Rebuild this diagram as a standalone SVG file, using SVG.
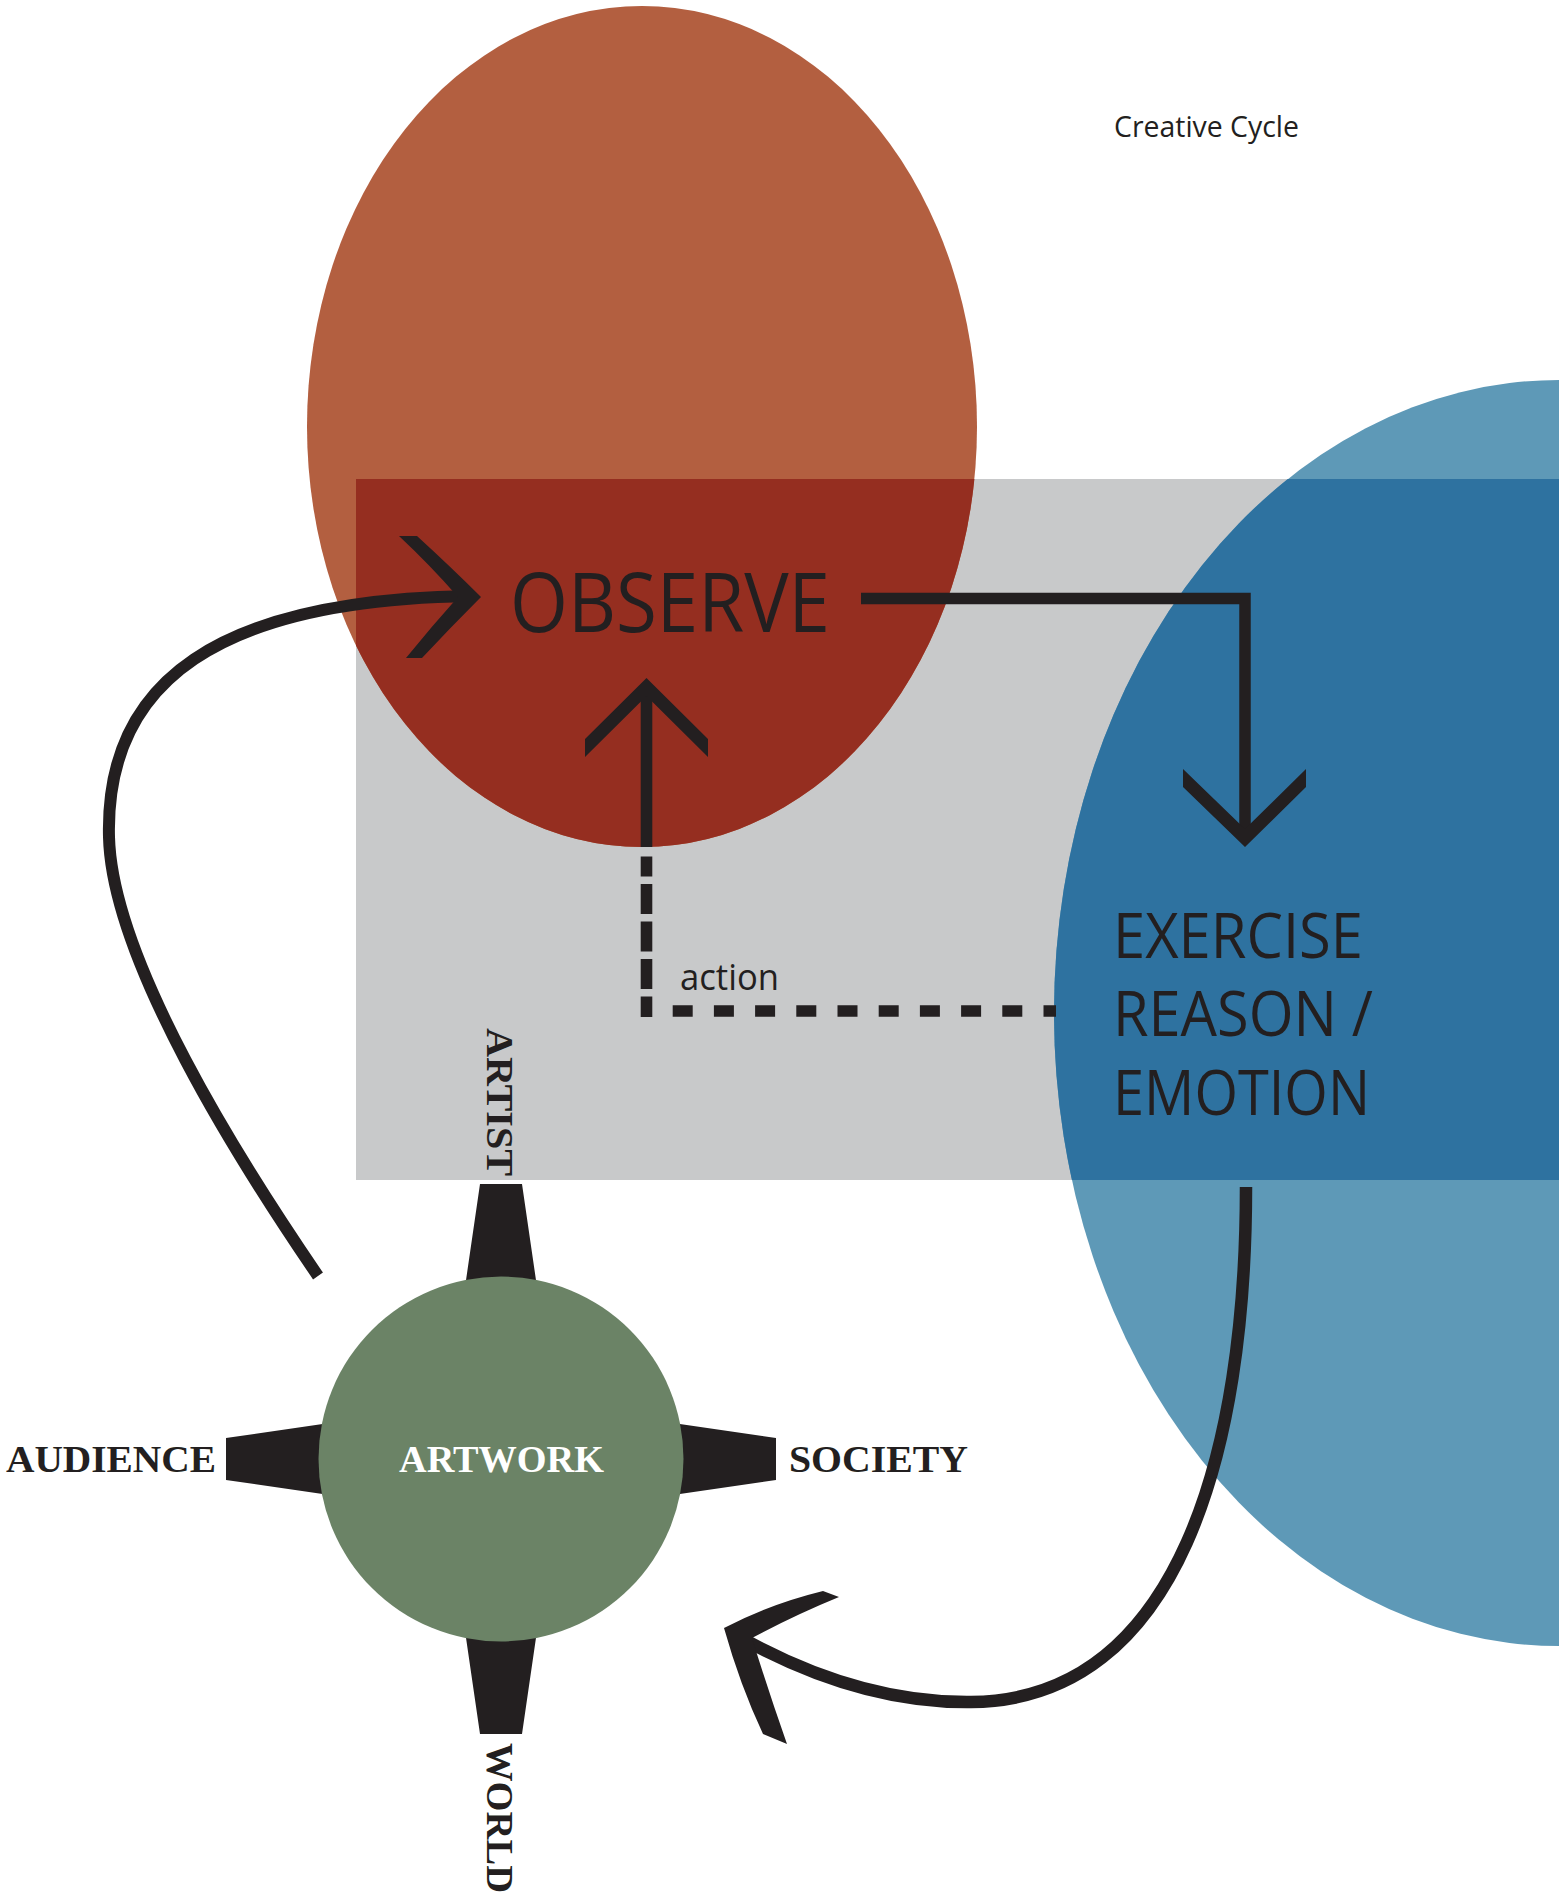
<svg xmlns="http://www.w3.org/2000/svg" width="1559" height="1902" viewBox="0 0 1559 1902">
<style>
.sans{font-family:"Open Sans","Liberation Sans",sans-serif;fill:#231F20}
.serif{font-family:"Liberation Serif","Times New Roman",serif;font-weight:bold;font-size:38px;fill:#231F20}
.line{fill:none;stroke:#231F20;stroke-linejoin:miter;stroke-linecap:butt}
.head{fill:#231F20;stroke:none}
</style>
<defs>
<clipPath id="rectClip"><rect x="356" y="479" width="1203" height="701"/></clipPath>
</defs>
<rect width="1559" height="1902" fill="#FFFFFF"/>
<g id="backdrop">
<rect x="356" y="479" width="1203" height="701" fill="#C8C9CA"/>
</g>
<g id="observe">
<ellipse cx="642" cy="426.5" rx="335" ry="420.5" fill="#B35F40"/>
<ellipse cx="642" cy="426.5" rx="335" ry="420.5" fill="#952E20" clip-path="url(#rectClip)"/>
<text class="sans" x="510" y="632" font-size="82" textLength="320" lengthAdjust="spacingAndGlyphs">OBSERVE</text>
</g>
<g id="exercise">
<ellipse cx="1559" cy="1013" rx="505" ry="633" fill="#5E99B7"/>
<ellipse cx="1559" cy="1013" rx="505" ry="633" fill="#2E72A0" clip-path="url(#rectClip)"/>
<text class="sans" x="1113" y="958" font-size="63" textLength="250" lengthAdjust="spacingAndGlyphs">EXERCISE</text>
<text class="sans" x="1113" y="1036" font-size="63" textLength="260" lengthAdjust="spacingAndGlyphs">REASON /</text>
<text class="sans" x="1113" y="1114.5" font-size="63" textLength="257" lengthAdjust="spacingAndGlyphs">EMOTION</text>
</g>
<g id="title">
<text class="sans" x="1114" y="136.5" font-size="30" textLength="185" lengthAdjust="spacingAndGlyphs">Creative Cycle</text>
</g>
<g id="connectors">
<path class="line" stroke-width="11.5" d="M 861 598.5 H 1245 V 830"/>
<path class="head" d="M 1183 769 L 1245 829 L 1306 769 L 1306 787 L 1245 847 L 1183 787 Z"/>
<path class="line" stroke-width="11.5" stroke-dasharray="20 21.2" d="M 672.7 1011 H 1056"/>
<path class="line" stroke-width="11.6" stroke-dasharray="30 7.5" stroke-dashoffset="9.5" d="M 646.5 1017 V 856.5"/>
<path class="line" stroke-width="11.6" d="M 646.5 847 V 692"/>
<path class="head" d="M 646.5 678 L 708 739 L 708 757 L 646.5 696 L 585 757 L 585 739 Z"/>
<path class="line" stroke-width="12" d="M 318 1276 C 240 1162, 112 960, 109 837 C 105 680, 220 600, 470 596"/>
<path class="head" d="M 399 536 L 417 536 Q 452 568 481 597 Q 450 628 422 658 L 406 658 Q 432 626 458 597 Q 430 565 399 536 Z"/>
<path class="line" stroke-width="12.5" d="M 1246 1187 C 1246 1450, 1180 1700, 971 1702 C 880 1703, 800 1670, 745 1640"/>
<path class="head" d="M 724 1628 Q 770 1604 823 1591 L 839 1597 Q 795 1615 752 1638 Q 768 1690 787 1744 L 763 1734 Q 740 1685 724 1628 Z"/>
</g>
<g id="artwork">
<path class="head" d="M 480 1184 L 522 1184 L 562 1459 L 440 1459 Z M 776 1438 L 776 1480 L 501 1520 L 501 1398 Z M 522 1734 L 480 1734 L 440 1459 L 562 1459 Z M 226 1480 L 226 1438 L 501 1398 L 501 1520 Z"/>
<circle cx="501" cy="1459" r="182.5" fill="#6B8366"/>
<text class="serif" x="399" y="1472" textLength="205" lengthAdjust="spacingAndGlyphs" fill="#FFFFFF" style="fill:#FFFFFF">ARTWORK</text>
</g>
<g id="artist">
<text class="serif" transform="translate(487,1028) rotate(90)" x="0" y="0" textLength="148" lengthAdjust="spacingAndGlyphs">ARTIST</text>
</g>
<g id="audience">
<text class="serif" x="6" y="1472" textLength="210" lengthAdjust="spacingAndGlyphs">AUDIENCE</text>
</g>
<g id="society">
<text class="serif" x="789" y="1472" textLength="179" lengthAdjust="spacingAndGlyphs">SOCIETY</text>
</g>
<g id="world">
<text class="serif" transform="translate(487,1743) rotate(90)" x="0" y="0" textLength="150" lengthAdjust="spacingAndGlyphs">WORLD</text>
</g>
<g id="action-label">
<text class="sans" x="680" y="990" font-size="37" textLength="99" lengthAdjust="spacingAndGlyphs">action</text>
</g>
</svg>
